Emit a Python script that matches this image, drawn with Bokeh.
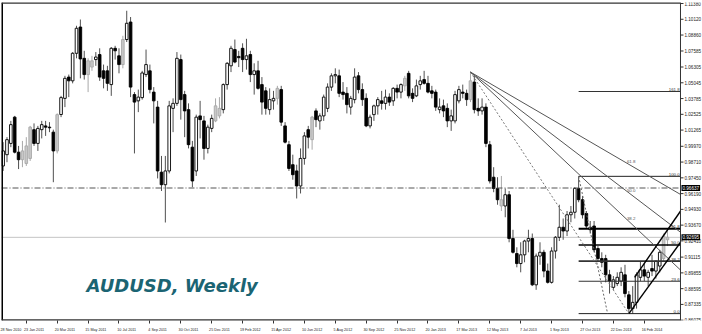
from bokeh.plotting import figure
from bokeh.models import Range1d, FixedTicker, Label, ColumnDataSource
from bokeh.core.properties import value
from bokeh.embed import file_html
from bokeh.resources import INLINE

# ---------------- data: weekly AUDUSD bars (index 0 = week of 23 Jan 2011) ----------------
week_index = list(range(-6, 167))

opens = [
    0.9840, 0.9930, 1.0020, 1.0230, 0.9950, 0.9890, 0.9860, 0.9900, 1.0130, 1.0020,
    1.0130, 1.0160, 1.0150, 1.0110, 0.9960, 1.0251, 1.0380, 1.0550, 1.0520, 1.0740,
    1.0950, 1.0700, 1.0570, 1.0630, 1.0690, 1.0730, 1.0600, 1.0600, 1.0490, 1.0780,
    1.0720, 1.0650, 1.0850, 1.0990, 1.0410, 1.0360, 1.0386, 1.0570, 1.0600, 1.0430,
    1.0310, 0.9790, 0.9690, 0.9800, 1.0300, 1.0340, 1.0690, 1.0410, 1.0290, 0.9990,
    0.9800, 1.0240, 1.0200, 0.9980, 1.0140, 1.0200, 1.0240, 1.0290, 1.0490, 1.0640,
    1.0770, 1.0715, 1.0780, 1.0690, 1.0730, 1.0570, 1.0600, 1.0490, 1.0440, 1.0290,
    1.0360, 1.0380, 1.0450, 1.0160, 1.0010, 0.9850, 0.9800, 0.9680, 0.9900, 1.0130,
    1.0050, 1.0280, 1.0200, 1.0240, 1.0300, 1.0470, 1.0560, 1.0560, 1.0430, 1.0420,
    1.0310, 1.0370, 1.0560, 1.0450, 1.0380, 1.0160, 1.0250, 1.0320, 1.0360, 1.0340,
    1.0390, 1.0360, 1.0460, 1.0430, 1.0480, 1.0580, 1.0420, 1.0400, 1.0490, 1.0530,
    1.0500, 1.0440, 1.0430, 1.0290, 1.0320, 1.0300, 1.0200, 1.0200, 1.0360, 1.0430,
    1.0420, 1.0370, 1.0510, 1.0300, 1.0280, 1.0310, 1.0010, 0.9750, 0.9660, 0.9570,
    0.9520, 0.9610, 0.9260, 0.9140, 0.9060, 0.9130, 0.9240, 0.9260, 0.8890, 0.9120,
    0.9150, 0.9000, 0.8910, 0.9160, 0.9270, 0.9350, 0.9320, 0.9450, 0.9470, 0.9660,
    0.9570, 0.9460, 0.9330, 0.9360, 0.9180, 0.9100, 0.9100, 0.8970, 0.8870, 0.8900,
    0.8920, 0.8970, 0.8810, 0.8700, 0.8750, 0.8950, 0.9010, 0.8950, 0.9020, 0.9000,
    0.9040, 0.9100, 0.9250,
]
highs = [
    1.0030, 1.0070, 1.0200, 1.0240, 1.0000, 1.0040, 1.0070, 1.0160, 1.0180, 1.0160,
    1.0200, 1.0200, 1.0190, 1.0130, 1.0260, 1.0400, 1.0560, 1.0570, 1.0750, 1.0960,
    1.1010, 1.0760, 1.0700, 1.0720, 1.0750, 1.0780, 1.0650, 1.0640, 1.0790, 1.0800,
    1.0780, 1.0880, 1.1080, 1.1030, 1.0430, 1.0450, 1.0600, 1.0770, 1.0650, 1.0470,
    1.0360, 0.9920, 0.9920, 1.0360, 1.0380, 1.0750, 1.0730, 1.0440, 1.0340, 1.0040,
    1.0250, 1.0360, 1.0240, 1.0170, 1.0250, 1.0380, 1.0390, 1.0500, 1.0670, 1.0800,
    1.0850, 1.0760, 1.0820, 1.0856, 1.0760, 1.0660, 1.0680, 1.0550, 1.0470, 1.0460,
    1.0440, 1.0480, 1.0480, 1.0190, 1.0040, 0.9930, 0.9850, 0.9980, 1.0110, 1.0160,
    1.0240, 1.0300, 1.0260, 1.0410, 1.0500, 1.0580, 1.0620, 1.0610, 1.0510, 1.0470,
    1.0400, 1.0620, 1.0590, 1.0500, 1.0420, 1.0250, 1.0330, 1.0390, 1.0440, 1.0450,
    1.0420, 1.0470, 1.0490, 1.0500, 1.0560, 1.0600, 1.0460, 1.0530, 1.0560, 1.0600,
    1.0560, 1.0480, 1.0450, 1.0380, 1.0370, 1.0340, 1.0290, 1.0440, 1.0480, 1.0490,
    1.0450, 1.0590, 1.0560, 1.0380, 1.0380, 1.0340, 1.0040, 0.9830, 0.9750, 0.9760,
    0.9660, 0.9640, 0.9330, 0.9190, 0.9230, 0.9250, 0.9330, 0.9300, 0.9140, 0.9230,
    0.9170, 0.9060, 0.9190, 0.9280, 0.9530, 0.9420, 0.9480, 0.9520, 0.9670, 0.9757,
    0.9600, 0.9480, 0.9400, 0.9400, 0.9200, 0.9150, 0.9130, 0.9010, 0.8960, 0.8990,
    0.9030, 0.9050, 0.8840, 0.8880, 0.8990, 0.9080, 0.9060, 0.9010, 0.9130, 0.9080,
    0.9170, 0.9300, 0.9340,
]
lows = [
    0.9800, 0.9870, 0.9990, 0.9940, 0.9815, 0.9830, 0.9840, 0.9880, 1.0000, 0.9960,
    1.0060, 1.0080, 1.0110, 0.9710, 0.9940, 1.0230, 1.0310, 1.0390, 1.0500, 1.0700,
    1.0540, 1.0530, 1.0430, 1.0600, 1.0640, 1.0520, 1.0460, 1.0440, 1.0400, 1.0690,
    1.0580, 1.0620, 1.0830, 1.0390, 0.9940, 1.0270, 1.0370, 1.0550, 1.0420, 1.0180,
    0.9740, 0.9640, 0.9388, 0.9780, 1.0110, 1.0320, 1.0210, 1.0070, 0.9980, 0.9670,
    0.9760, 1.0060, 0.9890, 0.9940, 1.0110, 1.0190, 1.0220, 1.0260, 1.0450, 1.0590,
    1.0660, 1.0630, 1.0590, 1.0610, 1.0510, 1.0410, 1.0450, 1.0250, 1.0250, 1.0250,
    1.0290, 1.0330, 1.0160, 1.0020, 0.9800, 0.9730, 0.9580, 0.9620, 0.9850, 0.9980,
    0.9970, 1.0150, 1.0130, 1.0200, 1.0270, 1.0440, 1.0500, 1.0390, 1.0370, 1.0260,
    1.0250, 1.0340, 1.0420, 1.0320, 1.0150, 1.0140, 1.0200, 1.0250, 1.0290, 1.0290,
    1.0320, 1.0320, 1.0380, 1.0380, 1.0440, 1.0380, 1.0350, 1.0390, 1.0450, 1.0490,
    1.0420, 1.0380, 1.0280, 1.0260, 1.0230, 1.0150, 1.0120, 1.0180, 1.0340, 1.0380,
    1.0320, 1.0350, 1.0260, 1.0240, 1.0250, 0.9990, 0.9700, 0.9630, 0.9530, 0.9480,
    0.9430, 0.9230, 0.9140, 0.9030, 0.8990, 0.9070, 0.9150, 0.8880, 0.8850, 0.9050,
    0.8950, 0.8900, 0.8900, 0.9100, 0.9240, 0.9250, 0.9280, 0.9390, 0.9420, 0.9550,
    0.9420, 0.9340, 0.9300, 0.9150, 0.9080, 0.9030, 0.8910, 0.8820, 0.8850, 0.8880,
    0.8880, 0.8790, 0.8660, 0.8660, 0.8700, 0.8920, 0.8920, 0.8880, 0.8960, 0.8940,
    0.8990, 0.9080, 0.9200,
]
closes = [
    0.9960, 1.0050, 1.0170, 0.9950, 0.9890, 0.9960, 1.0000, 1.0150, 1.0020, 1.0140,
    1.0170, 1.0150, 1.0145, 0.9960, 1.0250, 1.0386, 1.0540, 1.0520, 1.0740, 1.0940,
    1.0695, 1.0570, 1.0680, 1.0680, 1.0710, 1.0550, 1.0540, 1.0500, 1.0780, 1.0760,
    1.0650, 1.0850, 1.0980, 1.0470, 1.0350, 1.0390, 1.0583, 1.0650, 1.0450, 1.0360,
    0.9800, 0.9690, 0.9800, 1.0320, 1.0340, 1.0700, 1.0370, 1.0280, 1.0010, 0.9720,
    1.0230, 1.0210, 0.9980, 1.0150, 1.0220, 1.0320, 1.0300, 1.0490, 1.0660, 1.0780,
    1.0670, 1.0705, 1.0690, 1.0720, 1.0570, 1.0600, 1.0460, 1.0350, 1.0300, 1.0370,
    1.0380, 1.0460, 1.0190, 1.0030, 0.9820, 0.9770, 0.9680, 0.9900, 1.0080, 1.0070,
    1.0230, 1.0210, 1.0240, 1.0390, 1.0470, 1.0560, 1.0570, 1.0420, 1.0410, 1.0330,
    1.0380, 1.0550, 1.0450, 1.0370, 1.0160, 1.0230, 1.0320, 1.0370, 1.0340, 1.0390,
    1.0350, 1.0460, 1.0430, 1.0490, 1.0540, 1.0400, 1.0380, 1.0480, 1.0520, 1.0500,
    1.0430, 1.0420, 1.0310, 1.0310, 1.0280, 1.0200, 1.0240, 1.0410, 1.0450, 1.0420,
    1.0370, 1.0520, 1.0290, 1.0280, 1.0310, 1.0020, 0.9720, 0.9660, 0.9570, 0.9520,
    0.9610, 0.9260, 0.9150, 0.9060, 0.9130, 0.9240, 0.9260, 0.8890, 0.9120, 0.9150,
    0.9000, 0.8910, 0.9160, 0.9270, 0.9350, 0.9320, 0.9450, 0.9470, 0.9660, 0.9570,
    0.9450, 0.9360, 0.9350, 0.9170, 0.9100, 0.9070, 0.8970, 0.8920, 0.8930, 0.8950,
    0.8990, 0.8820, 0.8700, 0.8750, 0.8970, 0.9010, 0.8960, 0.8990, 0.9000, 0.9080,
    0.9150, 0.9280, 0.9270,
]
# u = white (up) candle, d = black (down) candle, g = grey candle
candle_kind = list(
    "uuuddgggdu" "udddguuduu" "ddggudddud" "dgudduuudd" "dduuuudddd"
    "udduugguuu" "dddududddu" "ugddddduud" "gduuuuuddd" "uuddduuudu"
    "dudugdduud" "dddudduuud" "dgdduddddg" "uddduuuduu" "dduuuduuud"
    "dduddddduu" "udduuududu" "ugg"
)

# date axis labels (every 8 weeks)
date_tick_index = list(range(-8, 161, 8))
date_tick_labels = ["28 Nov 2010", "23 Jan 2011", "20 Mar 2011", "15 May 2011", "10 Jul 2011",
                    "4 Sep 2011", "30 Oct 2011", "25 Dec 2011", "19 Feb 2012", "15 Apr 2012",
                    "10 Jun 2012", "5 Aug 2012", "30 Sep 2012", "25 Nov 2012", "20 Jan 2013",
                    "17 Mar 2013", "12 May 2013", "7 Jul 2013", "1 Sep 2013", "27 Oct 2013",
                    "22 Dec 2013", "16 Feb 2014"]
price_ticks = [1.11380, 1.10120, 1.08860, 1.07585, 1.06305, 1.05045, 1.03785, 1.02525, 1.01265,
               0.99970, 0.98710, 0.97450, 0.96190, 0.94930, 0.93670, 0.92410, 0.91115, 0.89855,
               0.88595, 0.87335, 0.86075]

# drawn objects
hline_price = 0.96637          # dash-dot horizontal line
bid_price = 0.92695            # current bid line
fib_levels = [0.0, 23.6, 38.2, 50.0, 61.8, 100.0, 161.8]
fib_anchor_index = [143, 150.5]
fib_anchor_price = [0.9757, 0.8660]
fan_anchor_index = [115, 156]
fan_anchor_price = [1.0590, 0.8660]
fan_levels = [38.2, 50.0, 61.8]
channel_lower_index = [156, 169.4]
channel_lower_price = [0.8660, 0.9230]
channel_upper_index = [157.5, 169.4]
channel_upper_price = [0.8950, 0.9480]

# ---------------- figure ----------------
PX_PER_BAR = 3.8625
X0 = -6.42                      # left edge of chart
X1 = 169.37                     # right edge of chart area (price scale starts here)
XF = X0 + 701 / PX_PER_BAR      # right edge of the canvas
Y0, YT = 0.8605, 1.1146
p = figure(width=702, height=334, x_range=Range1d(X0, XF), y_range=Range1d(Y0, YT),
           output_backend="svg", toolbar_location=None, y_axis_location=None,
           min_border_left=1, min_border_right=0, min_border_top=2, min_border_bottom=12)
p.xgrid.visible = False
p.ygrid.visible = False
p.background_fill_color = "white"
p.border_fill_color = "white"
p.outline_line_color = None

FONT = "Liberation Sans"

xa = p.xaxis[0]
shift = 2
xa.ticker = FixedTicker(ticks=[i + shift for i in date_tick_index], minor_ticks=date_tick_index)
xa.major_label_overrides = {i + shift: lab for i, lab in zip(date_tick_index, date_tick_labels)}
xa.major_tick_line_color = None
xa.minor_tick_line_color = "#333333"
xa.minor_tick_out = 3
xa.minor_tick_in = 0
xa.major_label_standoff = 1
xa.major_label_text_font = FONT
xa.major_label_text_font_size = "3.7px"
xa.major_label_text_color = "#222222"
xa.axis_line_color = None

# ---------------- candles ----------------
fill_map = {"u": "white", "d": "black", "g": "#c8c8c8"}
line_map = {"u": "black", "d": "black", "g": "#a8a8a8"}
wick_map = {"u": "#505050", "d": "#505050", "g": "#a8a8a8"}
src = ColumnDataSource(dict(
    x=week_index,
    top=[max(o, c) for o, c in zip(opens, closes)],
    bottom=[min(o, c) for o, c in zip(opens, closes)],
    high=highs, low=lows,
    fill=[fill_map[k] for k in candle_kind],
    line=[line_map[k] for k in candle_kind],
    wick=[wick_map[k] for k in candle_kind],
))

p.segment(x0=[X0], x1=[X1], y0=[bid_price], y1=[bid_price], line_color="#c4c4c4", line_width=1)
p.segment(x0="x", x1="x", y0="low", y1="high", line_color="wick", line_width=1, source=src)
p.vbar(x="x", width=0.68, top="top", bottom="bottom", fill_color="fill", line_color="line",
       line_width=0.9, source=src)
p.segment(x0=[X0], x1=[X1], y0=[hline_price], y1=[hline_price], line_color="#555555",
          line_width=1, line_dash="6 2 1 2")

# ---------------- Fibonacci retracement ----------------
f_hi, f_lo = fib_anchor_price
f_start = fib_anchor_index[0]
fib_prices = [f_lo + lv / 100.0 * (f_hi - f_lo) for lv in fib_levels]
fib_color = {0.0: "#222222", 23.6: "#333333", 38.2: "#333333", 50.0: "#000000",
             61.8: "#000000", 100.0: "#222222", 161.8: "#333333"}
fib_width = {0.0: 1, 23.6: 1.1, 38.2: 1.6, 50.0: 1.6, 61.8: 1.8, 100.0: 1, 161.8: 1.2}
for lv, pr in zip(fib_levels, fib_prices):
    p.segment(x0=[f_start], x1=[X1], y0=[pr], y1=[pr], line_color=fib_color[lv], line_width=fib_width[lv])
p.text(x=[X1 - 0.2] * len(fib_levels), y=fib_prices, text=[f"{lv:.1f}" for lv in fib_levels],
       text_align="right", text_baseline="bottom", text_font=value(FONT), text_font_size="4.4px",
       text_color="#333333", y_offset=-0.5)
p.segment(x0=[fib_anchor_index[0]], x1=[fib_anchor_index[1]], y0=[f_hi], y1=[f_lo],
          line_color="#666666", line_width=1, line_dash="2 2")

# ---------------- Fibonacci fan ----------------
ax, bx = fan_anchor_index
ap, bp = fan_anchor_price
p.segment(x0=[ax], x1=[bx], y0=[ap], y1=[bp], line_color="#777777", line_width=1, line_dash="2 2")
fan_end, fan_mid = [], []
for lv in fan_levels:
    mid = bp + lv / 100.0 * (ap - bp)
    slope = (mid - ap) / (bx - ax)
    fan_mid.append(mid)
    fan_end.append(ap + slope * (X1 - ax))
p.segment(x0=[ax] * 3, x1=[X1] * 3, y0=[ap] * 3, y1=fan_end, line_color="#555555", line_width=1)
p.text(x=[bx - 0.5] * 3, y=fan_mid, text=[f"{lv:.1f}" for lv in fan_levels], text_align="left",
       text_baseline="bottom", text_font=value(FONT), text_font_size="4.4px", text_color="#555555",
       y_offset=-1)

# ---------------- rising channel ----------------
p.line(x=channel_lower_index, y=channel_lower_price, line_color="black", line_width=1.4)
p.line(x=channel_upper_index, y=channel_upper_price, line_color="black", line_width=1.4)

# ---------------- chart frame ----------------
p.segment(x0=[X0], x1=[X0], y0=[Y0], y1=[YT], line_color="black", line_width=3)     # left
p.segment(x0=[X0], x1=[X1], y0=[YT], y1=[YT], line_color="#333333", line_width=2.5)  # top
p.segment(x0=[X0], x1=[X1], y0=[Y0], y1=[Y0], line_color="#333333", line_width=2.5)  # bottom
p.segment(x0=[X1], x1=[X1], y0=[Y0], y1=[YT], line_color="#333333", line_width=1)    # price scale

# ---------------- price scale (right) ----------------
tick_len = 3 / PX_PER_BAR
p.segment(x0=[X1] * len(price_ticks), x1=[X1 + tick_len] * len(price_ticks), y0=price_ticks,
          y1=price_ticks, line_color="#333333", line_width=1)
p.text(x=[X1] * len(price_ticks), y=price_ticks, text=[f"{t:.5f}" for t in price_ticks],
       x_offset=4, text_align="left", text_baseline="middle", text_font=value(FONT),
       text_font_size="4.6px", text_color="#222222")

for pr, txt in [(hline_price, "0.96637"), (bid_price, "0.92695")]:
    p.add_layout(Label(x=X1, y=pr, x_units="data", y_units="data", x_offset=1, text=txt,
                       text_font=FONT, text_font_size="4.6px", text_color="white",
                       text_baseline="middle", text_align="left", padding=1,
                       background_fill_color="black"))

# ---------------- title ----------------
p.add_layout(Label(x=15.6, y=0.8883, text="AUDUSD, Weekly", text_font="DejaVu Sans",
                   text_font_style="bold italic", text_font_size="18px", text_color="#1b6473",
                   text_baseline="alphabetic", text_align="left"))

open("out.html", "w").write(file_html(p, INLINE))
